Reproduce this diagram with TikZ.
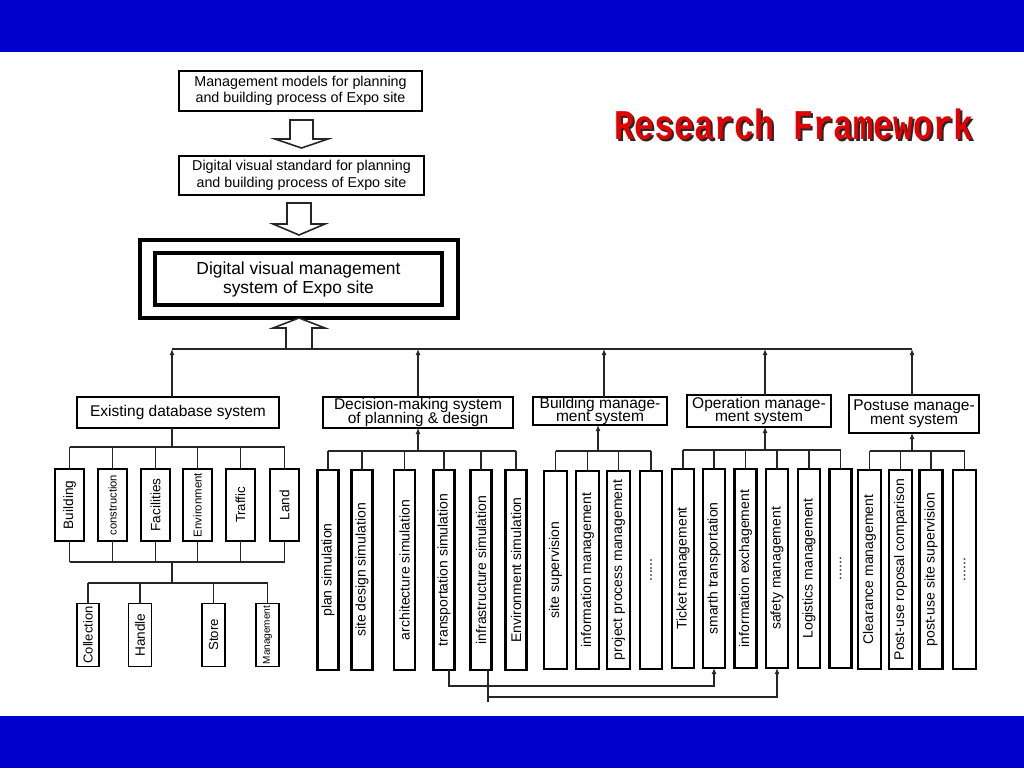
\documentclass[tikz,border=0pt]{standalone}
\usepackage{graphicx}
\usepackage{fontspec}
\setmainfont{Liberation Sans}
\newfontfamily\titlefont{Liberation Mono}
\usetikzlibrary{arrows.meta}
\definecolor{band}{RGB}{0,0,204}
\definecolor{titlered}{RGB}{228,0,0}
\newcommand\tightlines{\lineskiplimit -20pt\relax}
\tikzset{
 every node/.style={inner sep=0pt, outer sep=0pt},
 topbox/.style={draw, line width=2pt, align=center, font=\fontsize{14.3}{16.5}\selectfont},
 bigbox/.style={draw, line width=4pt},
 grp/.style={draw, line width=2.6pt, align=center, font=\fontsize{15.5}{13.5}\selectfont\tightlines},
 kid/.style={draw, line width=2.6pt, font=\fontsize{14}{16}\selectfont},
 dbkid/.style={draw, line width=1.3pt, font=\fontsize{13.6}{16}\selectfont},
 wire/.style={draw=black!85, line width=1.2pt},
 arr/.style={wire, -{Latex[length=6pt,width=5pt]}},
 hollow/.style={draw=black!85, line width=1.6pt, fill=white, line join=miter},
 ttl/.style={font=\titlefont\bfseries\fontsize{33.3}{36}\selectfont},
}
\begin{document}
\begin{tikzpicture}[x=1pt,y=-1pt]
\useasboundingbox (0,0) rectangle (1024,768);
\fill[white] (0,0) rectangle (1024,768);
\fill[band] (0,0) rectangle (1024,52);
\fill[band] (0,716) rectangle (1024,768);

% title
\node[ttl, text=black!85] (ttlshadow) at (796,126) {\scalebox{1}[1.27]{Research Framework}};
\node[ttl, text=titlered] (title) at (794,124) {\scalebox{1}[1.27]{Research Framework}};

% top chain
\node[topbox, minimum width=243pt, minimum height=40pt] (b1) at (300.5,91) {Management models for planning\\and building process of Expo site};
\node[topbox, minimum width=245pt, minimum height=39pt] (b2) at (301.5,175.5) {Digital visual standard for planning\\and building process of Expo site};
\node[bigbox, minimum width=318pt, minimum height=78pt] (outer) at (299,279) {};
\node[bigbox, minimum width=287pt, minimum height=52pt, align=center, font=\fontsize{17.4}{19}\selectfont] (inner) at (298.5,279) {Digital visual management\\system of Expo site};

\draw[hollow] ([yshift=8pt]b2.north) -- ++(26.5,-9) -- ++(-15,0) -- ++(0,-19) -- ++(-23,0) -- ++(0,19) -- ++(-15,0) -- cycle;
\draw[hollow] ([yshift=5pt]outer.north) -- ++(26,-11) -- ++(-14,0) -- ++(0,-21) -- ++(-24,0) -- ++(0,21) -- ++(-14,0) -- cycle;
\draw[hollow] (outer.south) -- ++(26,10) -- ++(-13,0) -- ++(0,21) -- ++(-26,0) -- ++(0,-21) -- ++(-13,0) -- cycle;

% group boxes
\node[grp, line width=2.8pt, minimum width=202pt, minimum height=31pt] (db) at (178,412.5) {Existing database system};
\node[grp, minimum width=190pt, minimum height=31pt] (dm) at (418,412.5) {Decision-making system\\of planning \& design};
\node[grp, line width=2pt, minimum width=134pt, minimum height=28pt] (bm) at (600,411) {Building manage-\\ment system};
\node[grp, line width=2.2pt, minimum width=144pt, minimum height=32pt] (om) at (759,411) {Operation manage-\\ment system};
\node[grp, line width=2.8pt, minimum width=130pt, minimum height=38pt] (pm) at (914,414) {Postuse manage-\\ment system};

% main bus
\coordinate (t1) at (172,349);
\coordinate (t2) at (418,349);
\coordinate (t3) at (604,349);
\coordinate (t4) at (765,349);
\coordinate (t5) at (912,349);
\draw[wire] (t1) -- (t5);
\draw[arr] (t1 |- db.north) -- (t1);
\draw[arr] (t2 |- dm.north) -- (t2);
\draw[arr] (t3 |- bm.north) -- (t3);
\draw[arr] (t4 |- om.north) -- (t4);
\draw[arr] (t5 |- pm.north) -- (t5);

% existing database children
\node[dbkid, minimum width=29pt, minimum height=72pt] (e1) at (69.5,505) {\rotatebox{90}{Building}};
\node[dbkid, minimum width=29pt, minimum height=72pt, font=\fontsize{11.2}{13}\selectfont] (e2) at (112.5,505) {\rotatebox{90}{construction}};
\node[dbkid, minimum width=29pt, minimum height=72pt] (e3) at (155.5,505) {\rotatebox{90}{Facilities}};
\node[dbkid, minimum width=29pt, minimum height=72pt, font=\fontsize{11.4}{13}\selectfont] (e4) at (197.5,505) {\rotatebox{90}{Environment}};
\node[dbkid, minimum width=29pt, minimum height=72pt, font=\fontsize{13.2}{15}\selectfont] (e5) at (240.5,505) {\rotatebox{90}{Traffic}};
\node[dbkid, minimum width=29pt, minimum height=72pt] (e6) at (284.5,505) {\rotatebox{90}{Land}};

\node[dbkid, minimum width=22pt, minimum height=63pt, font=\fontsize{13}{15}\selectfont] (f1) at (88,635) {\rotatebox{90}{Collection}};
\node[dbkid, minimum width=23pt, minimum height=63pt] (f2) at (140,635) {\rotatebox{90}{Handle}};
\node[dbkid, minimum width=23pt, minimum height=63pt, font=\fontsize{13.2}{15}\selectfont] (f3) at (213.5,635) {\rotatebox{90}{Store}};
\node[dbkid, minimum width=23pt, minimum height=63pt, font=\fontsize{10}{12}\selectfont] (f4) at (267.5,635) {\rotatebox{90}{Management}};

\coordinate (dbb) at (172,447);
\coordinate (dbc) at (172,562);
\coordinate (dbd) at (172,583);
\draw[wire] (t1 |- db.south) -- (dbb);
\draw[wire] (e1.north |- dbb) -- (e6.north |- dbb);
\foreach \n in {e1,e2,e3,e4,e5,e6} {
  \draw[wire] (\n.north) -- (\n.north |- dbb);
  \draw[wire] (\n.south) -- (\n.south |- dbc);
}
\draw[wire] (e1.south |- dbc) -- (e6.south |- dbc);
\draw[wire] (dbc) -- (dbd);
\draw[wire] (f1.north |- dbd) -- (f4.north |- dbd);
\foreach \n in {f1,f2,f3,f4} {
  \draw[wire] (\n.north) -- (\n.north |- dbd);
}

% decision-making children
\node[kid, minimum width=21pt, minimum height=200pt] (d1) at (328,570) {\rotatebox{90}{plan simulation}};
\node[kid, minimum width=21pt, minimum height=200pt] (d2) at (362,570) {\rotatebox{90}{site design simulation}};
\node[kid, minimum width=21pt, minimum height=200pt] (d3) at (404.5,570) {\rotatebox{90}{architecture simulation}};
\node[kid, minimum width=21pt, minimum height=200pt] (d4) at (444,570) {\rotatebox{90}{transportation simulation}};
\node[kid, minimum width=21pt, minimum height=200pt] (d5) at (481,570) {\rotatebox{90}{infrastructure simulation}};
\node[kid, minimum width=21pt, minimum height=200pt] (d6) at (516,570) {\rotatebox{90}{Environment simulation}};
\coordinate (dmb) at (418,451);
\draw[arr] (dmb) -- (dm.south);
\draw[wire] (d1.north |- dmb) -- (d6.north |- dmb);
\foreach \n in {d1,d2,d3,d4,d5,d6} { \draw[wire] (\n.north) -- (\n.north |- dmb); }

% building management children
\node[kid, minimum width=23pt, minimum height=198pt] (g1) at (555.5,570) {\rotatebox{90}{site supervision}};
\node[kid, minimum width=23pt, minimum height=198pt] (g2) at (587.5,570) {\rotatebox{90}{information management}};
\node[kid, minimum width=23pt, minimum height=198pt] (g3) at (618.5,570) {\rotatebox{90}{project process management}};
\node[kid, minimum width=22pt, minimum height=198pt] (g4) at (651,570) {\rotatebox{90}{......}};
\coordinate (bmb) at (598,451);
\draw[arr] (bmb) -- (bmb |- bm.south);
\draw[wire] (g1.north |- bmb) -- (g4.north |- bmb);
\foreach \n in {g1,g2,g3,g4} { \draw[wire] (\n.north) -- (\n.north |- bmb); }

% operation management children
\node[kid, minimum width=22pt, minimum height=199pt] (o1) at (683,568.5) {\rotatebox{90}{Ticket management}};
\node[kid, minimum width=22pt, minimum height=199pt] (o2) at (714,568.5) {\rotatebox{90}{smarth transportation}};
\node[kid, minimum width=22pt, minimum height=199pt] (o3) at (745.5,568.5) {\rotatebox{90}{information exchagement}};
\node[kid, minimum width=22pt, minimum height=199pt] (o4) at (777,568.5) {\rotatebox{90}{safety management}};
\node[kid, minimum width=22pt, minimum height=199pt] (o5) at (809,568.5) {\rotatebox{90}{Logistics management}};
\node[kid, minimum width=22pt, minimum height=199pt] (o6) at (840.5,568.5) {\rotatebox{90}{......}};
\coordinate (omb) at (765,450);
\draw[arr] (omb) -- (omb |- om.south);
\draw[wire] (o1.north |- omb) -- (o6.north |- omb);
\foreach \n in {o1,o2,o3,o4,o5,o6} { \draw[wire] (\n.north) -- (\n.north |- omb); }

% postuse management children
\node[kid, minimum width=23pt, minimum height=199pt] (p1) at (869.5,569.5) {\rotatebox{90}{Clearance management}};
\node[kid, minimum width=23pt, minimum height=199pt] (p2) at (900.5,569.5) {\rotatebox{90}{Post-use roposal comparison}};
\node[kid, minimum width=23pt, minimum height=199pt] (p3) at (931,569.5) {\rotatebox{90}{post-use site supervision}};
\node[kid, minimum width=23pt, minimum height=199pt] (p4) at (964.5,569.5) {\rotatebox{90}{......}};
\coordinate (pmb) at (912,451);
\draw[arr] (pmb) -- (pmb |- pm.south);
\draw[wire] (p1.north |- pmb) -- (p4.north |- pmb);
\foreach \n in {p1,p2,p3,p4} { \draw[wire] (\n.north) -- (\n.north |- pmb); }

% cross connectors
\coordinate (x1) at (449,686);
\coordinate (x2) at (488,697);
\coordinate (x2end) at (488,702);
\draw[arr] (x1 |- d4.south) -- (x1) -| (o2.south);
\draw[arr] (x2 |- d5.south) -- (x2) -| (o4.south);
\draw[wire] (x2) -- (x2end);
\end{tikzpicture}
\end{document}
